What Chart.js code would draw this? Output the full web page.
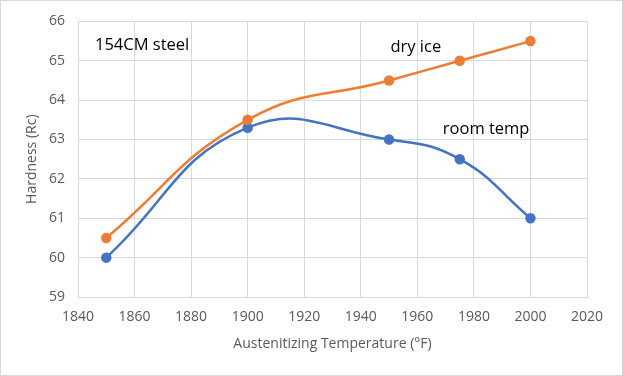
<!DOCTYPE html>
<html>
<head>
<meta charset="utf-8">
<script src="https://cdn.jsdelivr.net/npm/chart.js@4/dist/chart.umd.min.js"></script>
<style>
  html, body { margin: 0; padding: 0; background: #fff; }
  #wrap { width: 623px; height: 376px; }
</style>
</head>
<body>
<div id="wrap"><canvas id="chart" width="623" height="376"></canvas></div>
<script>
// data
const temps = [1850, 1900, 1950, 1975, 2000];
const dryIce = [60.5, 63.5, 64.5, 65, 65.5];
const roomTemp = [60, 63.3, 63, 62.5, 61];
const xTicks = [1840, 1860, 1880, 1900, 1920, 1940, 1960, 1980, 2000, 2020];
const yTicks = [59, 60, 61, 62, 63, 64, 65, 66];

// text labels placed in data coordinates
const notes = [
  { text: '154CM steel', x: 1846, y: 65.4 },
  { text: 'dry ice', x: 1950.5, y: 65.35 },
  { text: 'room temp', x: 1969, y: 63.25 }
];

const toPoints = (ys) => temps.map((t, i) => ({ x: t, y: ys[i] }));

const notesPlugin = {
  id: 'notes',
  afterDatasetsDraw(chart) {
    const { ctx, scales } = chart;
    ctx.save();
    ctx.fillStyle = '#000';
    ctx.font = '16.5px "Open Sans"';
    ctx.textBaseline = 'middle';
    ctx.textAlign = 'left';
    notes.forEach(n => {
      ctx.fillText(n.text, scales.x.getPixelForValue(n.x), scales.y.getPixelForValue(n.y));
    });
    ctx.restore();
  },
  afterDraw(chart) {
    const ctx = chart.ctx;
    ctx.save();
    ctx.strokeStyle = '#d9d9d9';
    ctx.lineWidth = 1;
    ctx.strokeRect(0.5, 0.5, chart.width - 1, chart.height - 1);
    ctx.restore();
  }
};

window.addEventListener('load', function() {
  const ctx = document.getElementById('chart').getContext('2d');
  new Chart(ctx, {
    type: 'scatter',
    data: {
      datasets: [
        {
          label: 'dry ice',
          data: toPoints(dryIce),
          showLine: true,
          borderColor: '#ED7D31',
          backgroundColor: '#ED7D31',
          borderWidth: 2.5,
          pointRadius: 4,
          tension: 0.45
        },
        {
          label: 'room temp',
          data: toPoints(roomTemp),
          showLine: true,
          borderColor: '#4472C4',
          backgroundColor: '#4472C4',
          borderWidth: 2.5,
          pointRadius: 4,
          tension: 0.45
        }
      ]
    },
    options: {
      responsive: false,
      animation: false,
      layout: { padding: { top: 19, right: 36, left: 0, bottom: 0 } },
      plugins: {
        legend: { display: false },
        tooltip: { enabled: false }
      },
      scales: {
        x: {
          type: 'linear',
          min: 1840,
          max: 2020,
          afterBuildTicks: (axis) => { axis.ticks = xTicks.map(v => ({ value: v })); },
          afterFit: (axis) => { axis.height = 79; },
          grid: { color: '#d9d9d9', tickLength: 0 },
          border: { color: '#d9d9d9' },
          ticks: {
            color: '#595959',
            font: { family: 'Open Sans', size: 14 },
            padding: 12,
            callback: (v) => String(v)
          },
          title: {
            display: true,
            text: 'Austenitizing Temperature (°F)',
            color: '#595959',
            font: { family: 'Open Sans', size: 14 },
            padding: { top: 0, bottom: 24 }
          }
        },
        y: {
          min: 59,
          max: 66,
          afterBuildTicks: (axis) => { axis.ticks = yTicks.map(v => ({ value: v })); },
          afterFit: (axis) => { axis.width = 78; },
          grid: { color: '#d9d9d9', tickLength: 0 },
          border: { color: '#d9d9d9' },
          ticks: { color: '#595959', font: { family: 'Open Sans', size: 14 }, padding: 13 },
          title: {
            display: true,
            text: 'Hardness (Rc)',
            color: '#595959',
            font: { family: 'Open Sans', size: 14 },
            padding: { top: 24, bottom: 0 }
          }
        }
      }
    },
    plugins: [notesPlugin]
  });
});
</script>
</body>
</html>
